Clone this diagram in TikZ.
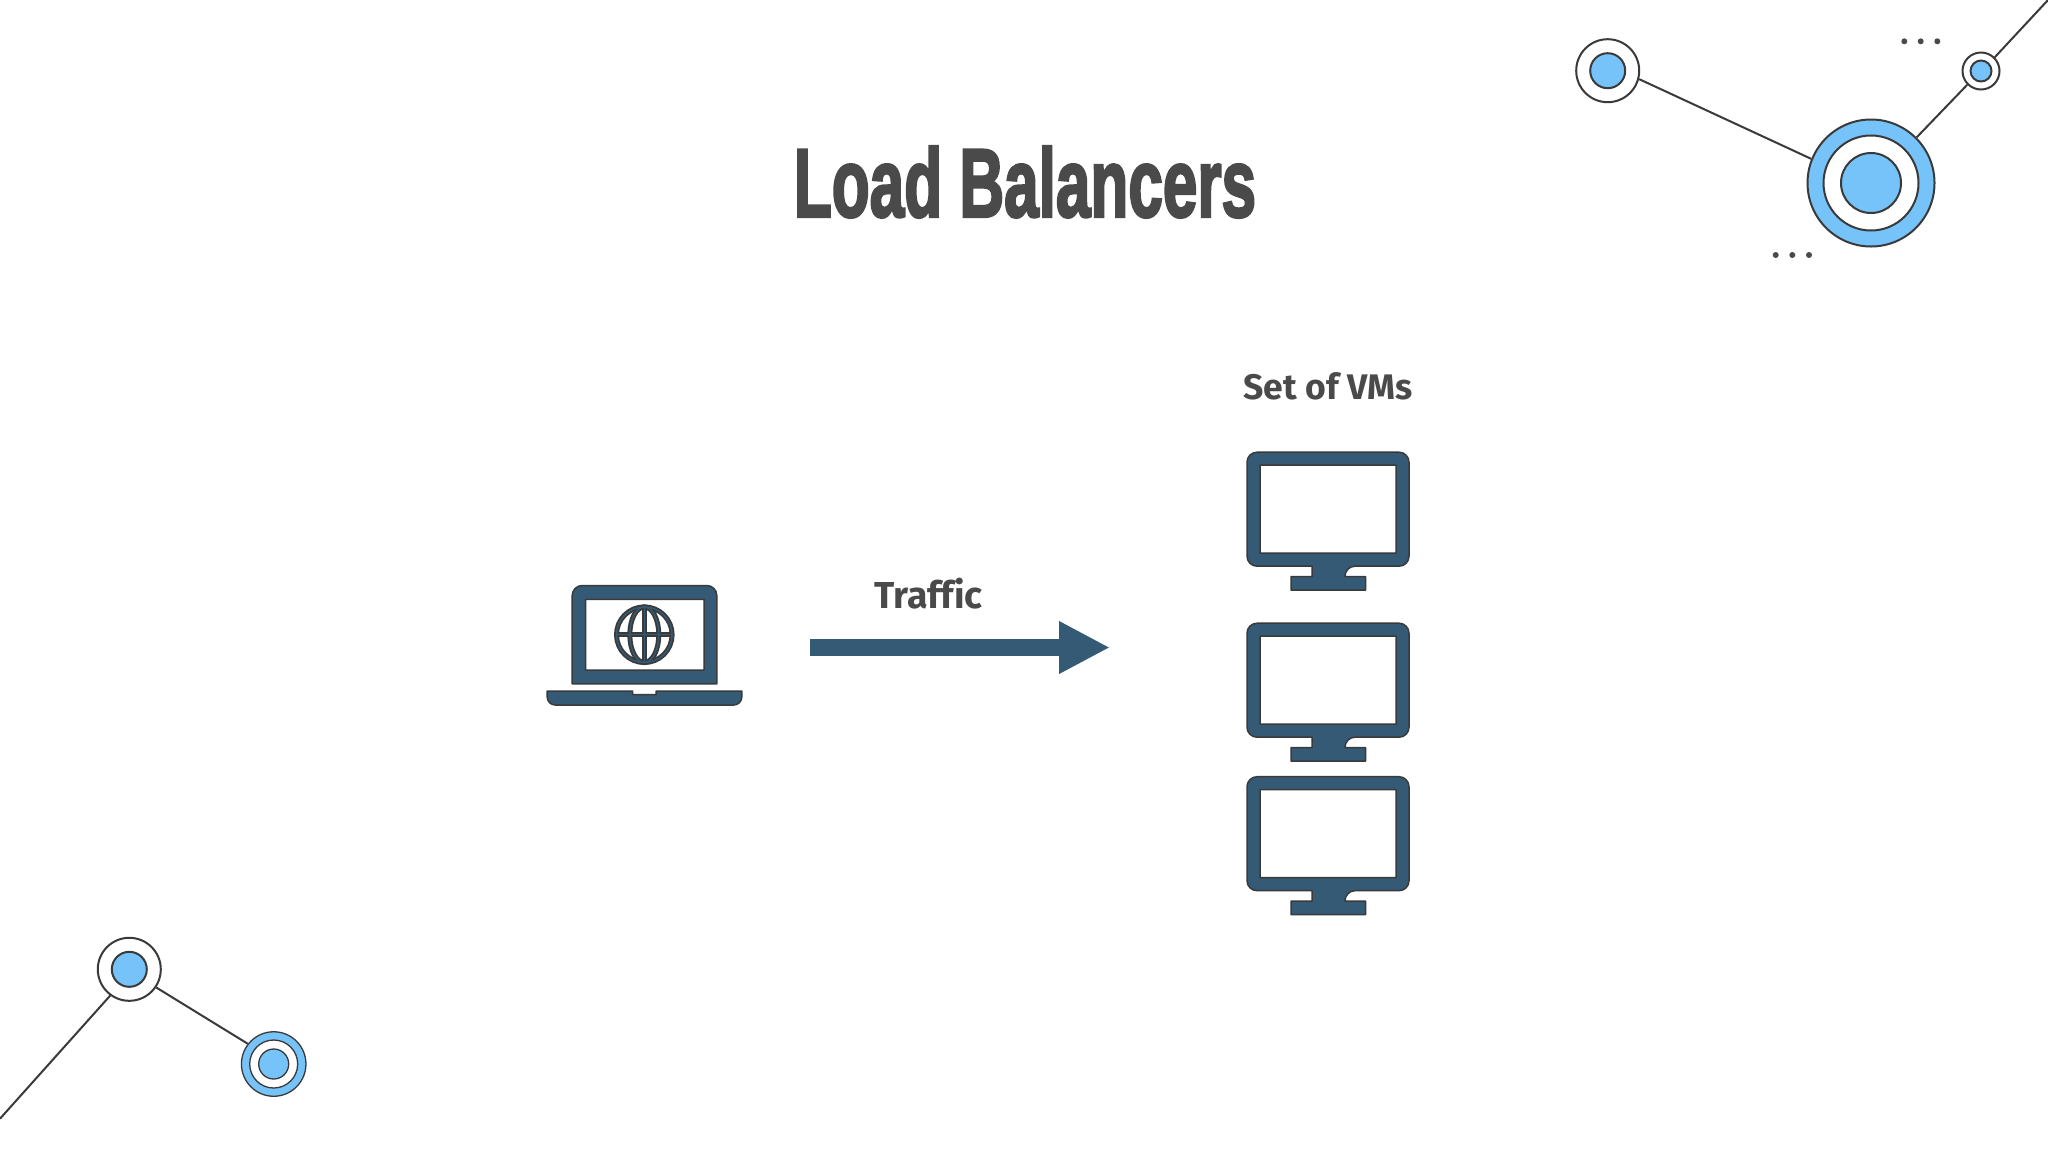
\documentclass[tikz,border=0pt]{standalone}
\usepackage{fontspec}
\usetikzlibrary{arrows.meta}
\setmainfont[Ligatures=NoCommon]{Fira Sans}
\newfontfamily\titlefont[BoldFeatures={FakeBold=3}]{Liberation Sans}
\definecolor{ink}{HTML}{3A3A3A}
\definecolor{txt}{HTML}{4A4A4A}
\definecolor{sky}{HTML}{76C3FA}
\definecolor{navy}{HTML}{345A75}
\tikzset{
  x=1pt,y=-1pt,
  disc/.style={circle,draw=ink,line width=#1,inner sep=0pt},
  disc/.default=2pt,
  wire/.style={draw=ink,line width=2pt},
  dotmark/.style={circle,fill=txt,inner sep=0pt,minimum size=6pt},
  icon/.style={fill=navy,draw=ink,line width=1.5pt,even odd rule,line join=round},
  label/.style={font=\bfseries\fontsize{#1}{40}\selectfont,text=txt},
  monitor/.pic={
    \path[icon] (-80,-66.5) [rounded corners=10pt] -- (82,-66.5) -- (82,47.5) -- (18,47.5) [sharp corners] -- (18,58) -- (38.5,58) -- (38.5,71.5) -- (-36,71.5) -- (-36,58) -- (-15,58) -- (-15,47.5) [rounded corners=10pt] -- (-80,47.5) -- cycle
      [sharp corners] (-67,-53.5) rectangle (69,34.5);
  }
}
\begin{document}
\begin{tikzpicture}
\useasboundingbox (0,0) rectangle (2048,1152);
\fill[white] (0,0) rectangle (2048,1152);

% title and labels
\node (title) at (1025,182) [font=\titlefont\bfseries\fontsize{97}{100}\selectfont,text=txt,xscale=.64] {Load Balancers};
\node (vmlabel) at (1328,386) [label=35.5] {Set of VMs};
\node (traffic) at (928.5,593.5) [label=37.5] {Traffic};

% top right network
\node (a) at (1607.7,70.7) [disc,fill=white,minimum size=63pt] {};
\node (a2) at (a) [disc,fill=sky,minimum size=35pt] {};
\node (b) at (1871,183) [disc,fill=sky,minimum size=127pt] {};
\node (b2) at (b) [disc,fill=white,minimum size=95pt] {};
\node (b3) at (b) [disc,fill=sky,minimum size=60pt] {};
\node (c) at (1981,71) [disc,fill=white,minimum size=37pt] {};
\node (c2) at (c) [disc,fill=sky,minimum size=21pt] {};
\coordinate (cfree) at (2048,0);
\draw[wire] (a.-15) -- (b.158);
\draw[wire] (b.45) -- (c.-135);
\draw[wire] (c.45) -- (cfree);
\node (d1) at (1904.3,41.3) [dotmark] {};
\node (d2) at (1920.7,41.3) [dotmark] {};
\node (d3) at (1937.3,41.3) [dotmark] {};
\node (d4) at (1775.7,255) [dotmark] {};
\node (d5) at (1792.3,255) [dotmark] {};
\node (d6) at (1809,255) [dotmark] {};

% bottom left network
\node (p) at (129.3,969.3) [disc,fill=white,minimum size=63pt] {};
\node (p2) at (p) [disc,fill=sky,minimum size=35pt] {};
\node (q) at (273.7,1064) [disc=1.3pt,fill=sky,minimum size=64.5pt] {};
\node (q2) at (q) [disc=1.3pt,fill=white,minimum size=48pt] {};
\node (q3) at (q) [disc=1.3pt,fill=sky,minimum size=30pt] {};
\coordinate (pfree) at (0,1118.7);
\draw[wire] (p.-34) -- (q.142);
\draw[wire] (p.234) -- (pfree);

% laptop
\path[icon] (572.2,683.8) [rounded corners=10pt] -- (572.2,585.5) -- (716.8,585.5) [sharp corners] -- (716.8,683.8) -- cycle
  (585.7,599.3) rectangle (704,670);
\path[icon] (547.2,691) -- (632.7,691) -- (632.7,694.7) -- (656,694.7) -- (656,691) -- (741.8,691) [rounded corners=8pt] -- (741.8,705) -- (547.2,705) [sharp corners] -- cycle;
\foreach \col/\wd in {ink/5pt,navy/1.4pt}{
  \begin{scope}[draw=\col,line width=\wd]
    \draw (644.3,634.7) circle (27.8);
    \draw (644.3,634.7) ellipse (14.5 and 27.8);
    \draw (644.3,606.9) -- (644.3,662.5);
    \draw (616.5,634.7) -- (672.1,634.7);
  \end{scope}
}

% traffic arrow
\coordinate (from) at (810,647.5);
\coordinate (to) at (1110,647.5);
\draw[navy,line width=17pt,-{Triangle[length=51pt,width=49pt]}] (from) -- (to);

% monitors
\pic at (1327,518.7) {monitor};
\pic at (1327,689.7) {monitor};
\pic at (1327,843.2) {monitor};
\end{tikzpicture}
\end{document}
